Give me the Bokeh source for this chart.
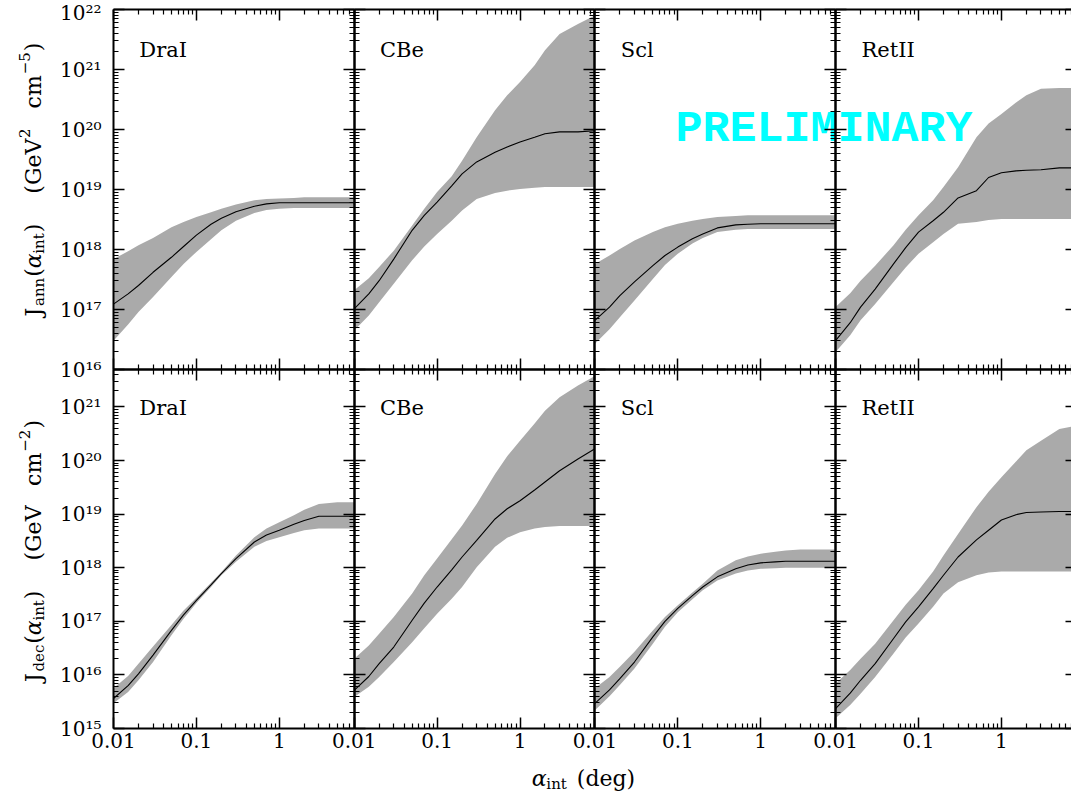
import numpy as np
from bokeh.plotting import figure
from bokeh.models import (Range1d, LogScale, LogAxis, FixedTicker,
                          CustomJSTickFormatter, Label)
from bokeh.embed import file_html
from bokeh.resources import INLINE

# ---------------- data: log10 of J ----------------
alpha_int = [0.01, 0.015, 0.02, 0.03, 0.05, 0.07, 0.1, 0.15, 0.2, 0.3, 0.5, 0.7, 1, 1.5, 2, 3, 5, 8]
dwarfs = ["DraI", "CBe", "Scl", "RetII"]

# annihilation J-factor (GeV^2 cm^-5), log10
drai_ann_lo  = [16.48, 16.75, 16.96, 17.21, 17.54, 17.76, 17.96, 18.17, 18.32, 18.48, 18.61, 18.66, 18.68, 18.69, 18.69, 18.69, 18.69, 18.69]
drai_ann_med = [17.09, 17.26, 17.40, 17.62, 17.87, 18.05, 18.24, 18.42, 18.52, 18.63, 18.72, 18.76, 18.78, 18.78, 18.78, 18.78, 18.78, 18.78]
drai_ann_hi  = [17.84, 17.97, 18.07, 18.19, 18.37, 18.46, 18.54, 18.62, 18.68, 18.75, 18.82, 18.84, 18.85, 18.86, 18.87, 18.87, 18.87, 18.87]

cbe_ann_lo  = [16.65, 16.90, 17.12, 17.43, 17.82, 18.05, 18.26, 18.48, 18.65, 18.84, 18.94, 18.98, 19.01, 19.03, 19.04, 19.04, 19.04, 19.04]
cbe_ann_med = [17.01, 17.26, 17.48, 17.84, 18.32, 18.57, 18.79, 19.06, 19.26, 19.46, 19.62, 19.71, 19.79, 19.87, 19.93, 19.96, 19.96, 19.98]
cbe_ann_hi  = [17.32, 17.52, 17.71, 17.98, 18.40, 18.68, 18.96, 19.22, 19.48, 19.87, 20.32, 20.57, 20.79, 21.07, 21.32, 21.59, 21.76, 21.90]

scl_ann_lo  = [16.43, 16.67, 16.87, 17.15, 17.51, 17.74, 17.93, 18.10, 18.19, 18.29, 18.33, 18.34, 18.34, 18.34, 18.34, 18.34, 18.34, 18.34]
scl_ann_med = [16.82, 17.04, 17.23, 17.46, 17.73, 17.90, 18.04, 18.18, 18.26, 18.36, 18.41, 18.42, 18.43, 18.43, 18.43, 18.43, 18.43, 18.43]
scl_ann_hi  = [17.76, 17.90, 18.01, 18.15, 18.29, 18.37, 18.43, 18.48, 18.51, 18.54, 18.56, 18.57, 18.57, 18.57, 18.57, 18.57, 18.57, 18.57]

retii_ann_lo  = [16.29, 16.57, 16.82, 17.09, 17.46, 17.70, 17.93, 18.12, 18.26, 18.43, 18.46, 18.49, 18.51, 18.51, 18.51, 18.51, 18.51, 18.51]
retii_ann_med = [16.48, 16.78, 17.04, 17.34, 17.76, 18.03, 18.29, 18.48, 18.62, 18.86, 18.98, 19.20, 19.28, 19.31, 19.32, 19.33, 19.36, 19.36]
retii_ann_hi  = [17.04, 17.27, 17.48, 17.73, 18.07, 18.33, 18.57, 18.82, 19.04, 19.37, 19.87, 20.10, 20.26, 20.45, 20.57, 20.68, 20.69, 20.69]

# decay D-factor (GeV cm^-2), log10
drai_dec_lo  = [15.47, 15.68, 15.90, 16.24, 16.74, 17.05, 17.34, 17.64, 17.86, 18.11, 18.39, 18.50, 18.57, 18.65, 18.70, 18.73, 18.73, 18.73]
drai_dec_med = [15.56, 15.80, 16.02, 16.37, 16.83, 17.12, 17.39, 17.68, 17.89, 18.17, 18.48, 18.61, 18.70, 18.81, 18.88, 18.96, 18.96, 18.96]
drai_dec_hi  = [15.75, 15.98, 16.21, 16.53, 16.93, 17.20, 17.44, 17.72, 17.92, 18.23, 18.57, 18.73, 18.85, 18.98, 19.08, 19.19, 19.22, 19.22]

cbe_dec_lo  = [15.59, 15.78, 15.96, 16.24, 16.61, 16.87, 17.14, 17.42, 17.64, 18.01, 18.39, 18.56, 18.66, 18.73, 18.76, 18.78, 18.78, 18.78]
cbe_dec_med = [15.71, 15.97, 16.21, 16.52, 17.02, 17.34, 17.64, 17.96, 18.20, 18.51, 18.91, 19.10, 19.25, 19.45, 19.60, 19.81, 20.03, 20.22]
cbe_dec_hi  = [16.30, 16.55, 16.77, 17.08, 17.52, 17.86, 18.17, 18.53, 18.79, 19.19, 19.75, 20.08, 20.37, 20.69, 20.93, 21.18, 21.40, 21.58]

scl_dec_lo  = [15.34, 15.60, 15.81, 16.12, 16.58, 16.90, 17.17, 17.41, 17.58, 17.76, 17.89, 17.95, 17.98, 17.99, 18.00, 18.00, 18.00, 18.00]
scl_dec_med = [15.47, 15.72, 15.93, 16.24, 16.71, 17.00, 17.24, 17.48, 17.64, 17.83, 17.98, 18.05, 18.09, 18.11, 18.12, 18.12, 18.12, 18.12]
scl_dec_hi  = [15.75, 15.96, 16.15, 16.43, 16.83, 17.08, 17.30, 17.54, 17.70, 17.95, 18.14, 18.21, 18.26, 18.30, 18.32, 18.34, 18.34, 18.34]

retii_dec_lo  = [15.19, 15.44, 15.65, 15.96, 16.40, 16.70, 16.96, 17.27, 17.52, 17.73, 17.86, 17.91, 17.93, 17.93, 17.93, 17.93, 17.93, 17.93]
retii_dec_med = [15.37, 15.66, 15.90, 16.21, 16.68, 16.99, 17.27, 17.61, 17.86, 18.20, 18.52, 18.70, 18.89, 18.99, 19.03, 19.04, 19.05, 19.05]
retii_dec_hi  = [15.84, 16.09, 16.30, 16.58, 17.02, 17.31, 17.58, 17.93, 18.23, 18.63, 19.13, 19.42, 19.69, 19.98, 20.19, 20.37, 20.59, 20.65]

ann = {"DraI": (drai_ann_lo, drai_ann_med, drai_ann_hi),
       "CBe": (cbe_ann_lo, cbe_ann_med, cbe_ann_hi),
       "Scl": (scl_ann_lo, scl_ann_med, scl_ann_hi),
       "RetII": (retii_ann_lo, retii_ann_med, retii_ann_hi)}
dec = {"DraI": (drai_dec_lo, drai_dec_med, drai_dec_hi),
       "CBe": (cbe_dec_lo, cbe_dec_med, cbe_dec_hi),
       "Scl": (scl_dec_lo, scl_dec_med, scl_dec_hi),
       "RetII": (retii_dec_lo, retii_dec_med, retii_dec_hi)}

x_major = [0.01, 0.1, 1]
x_label_text = ["0.01", "0.1", "1"]

# ---------------- layout ----------------
XMIN, XMAX = 0.01, 8.0
YT = (1e16, 1e22)      # annihilation row
YB = (1e15, 5e21)      # decay row
W, HT, HB = 240.7, 360, 359
LEFT, TOP = 113, 9
FW, FH = 1071, 800
BOTTOM = FH - TOP - HT - HB
FONT = "DejaVu Serif"

# the frame is the whole canvas; each panel gets its own log ranges
span = np.log10(XMAX / XMIN)
pxx = W / span
dt = np.log10(YT[1] / YT[0]); pxt = HT / dt
db = np.log10(YB[1] / YB[0]); pxb = HB / db


def xr(c):
    s = np.log10(XMIN) - (LEFT + c * W) / pxx
    return Range1d(10 ** s, 10 ** (s + FW / pxx))


yt_end = np.log10(YT[1]) + TOP / pxt
yb_start = np.log10(YB[0]) - BOTTOM / pxb


def yt_range():
    return Range1d(10 ** (yt_end - FH / pxt), 10 ** yt_end)


def yb_range():
    return Range1d(10 ** yb_start, 10 ** (yb_start + FH / pxb))


p = figure(frame_width=FW, frame_height=FH,
           x_axis_type="log", y_axis_type="log",
           x_range=xr(0), y_range=yt_range(),
           x_axis_location=None, y_axis_location=None,
           toolbar_location=None, output_backend="svg",
           min_border_left=0, min_border_right=0,
           min_border_top=0, min_border_bottom=0,
           outline_line_color=None, background_fill_color="white")
p.xgrid.visible = False
p.ygrid.visible = False

p.extra_x_ranges = {f"x{c}": xr(c) for c in range(4)}
p.extra_x_scales = {f"x{c}": LogScale() for c in range(4)}
p.extra_y_ranges = {"yt": yt_range(), "yb": yb_range()}
p.extra_y_scales = {"yt": LogScale(), "yb": LogScale()}

x_minor = [m * 10.0 ** d for d in (-2, -1, 0) for m in range(2, 10) if m * 10.0 ** d <= XMAX]
yt_major = [10.0 ** d for d in range(16, 23)]
yt_minor = [m * 10.0 ** d for d in range(16, 22) for m in range(2, 10)]
yb_major = [10.0 ** d for d in range(15, 22)]
yb_minor = [m * 10.0 ** d for d in range(15, 22) for m in range(2, 10) if m * 10.0 ** d <= YB[1]]

xfmt = CustomJSTickFormatter(args=dict(vals=x_major, labs=x_label_text), code="""
    for (let i = 0; i < vals.length; i++) {
        if (Math.abs(Math.log10(tick) - Math.log10(vals[i])) < 1e-6) return labs[i];
    }
    return '';
""")
yfmt = CustomJSTickFormatter(code="""
    const e = Math.round(Math.log10(tick));
    const sup = {"0":"\u2070","1":"\u00b9","2":"\u00b2","3":"\u00b3","4":"\u2074",
                 "5":"\u2075","6":"\u2076","7":"\u2077","8":"\u2078","9":"\u2079","-":"\u207b"};
    return "10" + String(e).split("").map(c => sup[c]).join("");
""")
blank = CustomJSTickFormatter(code="return '';")


def style(ax, standoff):
    ax.axis_line_width = 2
    ax.axis_line_color = "black"
    ax.major_tick_in = 11
    ax.major_tick_out = 0
    ax.minor_tick_in = 5
    ax.minor_tick_out = 0
    ax.major_tick_line_width = 1.5
    ax.minor_tick_line_width = 1.2
    ax.major_label_text_font = FONT
    ax.major_label_text_font_size = "20px"
    ax.major_label_text_color = "black"
    ax.major_label_standoff = standoff


for r, (yname, (ylo, yhi), ymaj, ymin_) in enumerate([("yt", YT, yt_major, yt_minor),
                                                       ("yb", YB, yb_major, yb_minor)]):
    for c in range(4):
        xname = f"x{c}"
        for side, loc in (("below", ylo), ("above", yhi)):
            ax = LogAxis(x_range_name=xname, y_range_name=yname, fixed_location=loc,
                         bounds=(XMIN, XMAX),
                         ticker=FixedTicker(ticks=x_major, minor_ticks=x_minor),
                         formatter=xfmt if (r == 1 and side == "below") else blank)
            style(ax, 4)
            p.add_layout(ax, side)
        for side, loc in (("left", XMIN), ("right", XMAX)):
            ax = LogAxis(x_range_name=xname, y_range_name=yname, fixed_location=loc,
                         bounds=(ylo, yhi),
                         ticker=FixedTicker(ticks=ymaj, minor_ticks=ymin_),
                         formatter=yfmt if (c == 0 and side == "left") else blank)
            style(ax, 12)
            p.add_layout(ax, side)

# ---------------- bands and median curves ----------------
for r, (yname, table) in enumerate([("yt", ann), ("yb", dec)]):
    for c, name in enumerate(dwarfs):
        lo, med, hi = table[name]
        xname = f"x{c}"
        p.varea(x=alpha_int, y1=[10.0 ** v for v in lo], y2=[10.0 ** v for v in hi],
                fill_color="#aaaaaa", fill_alpha=1.0,
                x_range_name=xname, y_range_name=yname)
        p.line(x=alpha_int, y=[10.0 ** v for v in med], line_color="black", line_width=1.1,
               x_range_name=xname, y_range_name=yname)
        p.add_layout(Label(x=0.0205, y=(2.1e21 if r == 0 else 9.5e20), text=name,
                           x_range_name=xname, y_range_name=yname,
                           text_font=FONT, text_font_size="21px", text_color="black",
                           text_align="left", text_baseline="middle"))

p.add_layout(Label(x=5.8, y=1e20, x_range_name="x2", y_range_name="yt",
                   text="PRELIMINARY", text_font="Liberation Mono", text_font_style="bold",
                   text_font_size="45px", text_color="#00ffff",
                   text_align="center", text_baseline="middle", level="glyph"))

# ---------------- composite axis titles ----------------
EM = {' ': 0.318, '(': 0.390, ')': 0.390, 'J': 0.472, 'a': 0.596, 'n': 0.644, 'i': 0.320,
      't': 0.402, 'G': 0.775, 'e': 0.592, 'V': 0.727, 'c': 0.560, 'm': 0.949, 'd': 0.640,
      'g': 0.640, '2': 0.636, '5': 0.636, '\u2212': 0.838, '\u03b1': 0.66}


def seg_w(text, size):
    return sum(EM.get(ch, 0.6) for ch in text) * size


def composite(segments, base, center, vertical):
    total = sum(g + seg_w(t, s) for t, s, sh, st, g in segments)
    pos = center - total / 2
    for text, size, shift, fstyle, gap in segments:
        pos += gap
        if vertical:
            kw = dict(x=base + shift, y=pos, angle=90, angle_units="deg")
        else:
            kw = dict(x=pos, y=base - shift)
        p.add_layout(Label(x_units="screen", y_units="screen", text=text,
                           text_font=FONT, text_font_size=f"{size}px",
                           text_font_style=fstyle, text_color="black",
                           text_align="left", text_baseline="alphabetic", **kw))
        pos += seg_w(text, size)


S, s = 22, 15
ann_title = [("J", S, 0, "normal", 0), ("ann", s, 5, "normal", 0), ("(", S, 0, "normal", 1),
             ("\u03b1", S, 0, "italic", 0), ("int", s, 5, "normal", 0), (")", S, 0, "normal", 1),
             ("(GeV", S, 0, "normal", 30), ("2", s, -9, "normal", 1), ("cm", S, 0, "normal", 20),
             ("\u22125", s, -9, "normal", 1), (")", S, 0, "normal", 1)]
dec_title = [("J", S, 0, "normal", 0), ("dec", s, 5, "normal", 0), ("(", S, 0, "normal", 1),
             ("\u03b1", S, 0, "italic", 0), ("int", s, 5, "normal", 0), (")", S, 0, "normal", 1),
             ("(GeV", S, 0, "normal", 30), ("cm", S, 0, "normal", 20),
             ("\u22122", s, -9, "normal", 1), (")", S, 0, "normal", 1)]
composite(ann_title, LEFT - 80, BOTTOM + HB + HT / 2 + 10, True)
composite(dec_title, LEFT - 80, BOTTOM + HB / 2 - 2, True)

x_title = [("\u03b1", S, 0, "italic", 0), ("int", s, 5, "normal", 0), ("(deg)", S, 0, "normal", 10)]
composite(x_title, BOTTOM - 50, LEFT + 470, False)

open("out.html", "w", encoding="utf-8").write(file_html(p, INLINE))
